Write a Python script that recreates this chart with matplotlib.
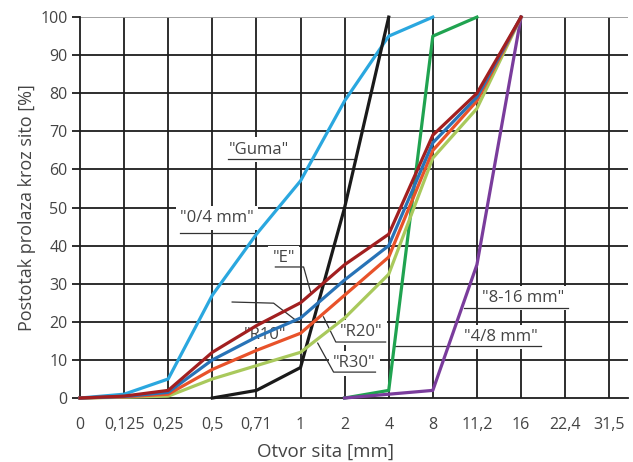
import matplotlib.pyplot as plt

plt.rcParams["font.family"] = ["Open Sans", "DejaVu Sans"]

sieves = ["0", "0,125", "0,25", "0,5", "0,71", "1", "2", "4", "8", "11,2", "16", "22,4", "31,5"]
pos = list(range(len(sieves)))

# passing [%] per sieve, None where the curve is not drawn
guma = [0, 1, 5, 27, 43, 57, 78, 95, 100, None, None, None, None]
black = [None, None, None, 0, 2, 8, 50, 100, None, None, None, None, None]
gr_4_8 = [None, None, None, None, None, None, 0, 2, 95, 100, None, None, None]
gr_8_16 = [None, None, None, None, None, None, 0, 1, 2, 35, 100, None, None]
e_curve = [0, 0.5, 2, 12, 19, 25, 35, 43, 69, 80, 100, None, None]
r10 = [0, 0.4, 1.5, 10, 16, 21, 31, 40, 67, 79, 100, None, None]
r20 = [0, 0.3, 1, 7.5, 12.5, 17, 27, 37, 65, 78, 100, None, None]
r30 = [0, 0.2, 0.5, 5, 8.5, 12, 21, 32.5, 63, 76, 100, None, None]

series = [
    (guma, "#2aa7df"),
    (black, "#1a1a1a"),
    (gr_4_8, "#20a350"),
    (gr_8_16, "#7a3c9c"),
    (r30, "#a9c95c"),
    (r20, "#e8522a"),
    (r10, "#2873b7"),
    (e_curve, "#a21f20"),
]

# label text, text position, leader line points
labels = [
    ('"Guma"', (4.05, 65.2), [(3.36, 62.7), (6.25, 62.7)]),
    ('"0/4 mm"', (3.1, 47.2), [(2.27, 43.3), (3.95, 43.3)]),
    ('"E"', (4.62, 36.8), [(4.43, 34.4), (5.07, 34.4), (5.23, 27.8)]),
    ('"R10"', (4.2, 16.6), [(3.45, 25.2), (4.39, 24.9), (4.95, 19.9)]),
    ('"R20"', (6.38, 17.2), [(6.93, 14.7), (5.8, 14.7), (5.52, 21.3)]),
    ('"R30"', (6.22, 9.1), [(6.7, 6.8), (5.75, 6.8), (5.39, 14.4)]),
    ('"8-16 mm"', (10.05, 26.3), [(8.7, 23.6), (11.07, 23.6)]),
    ('"4/8 mm"', (9.55, 16.1), [(7.11, 13.6), (10.45, 13.6)]),
]

fig = plt.figure(figsize=(6.33, 4.62), dpi=100)
ax = fig.add_axes([0.1264, 0.1385, 0.866, 0.8245])

ax.set_xlim(0, 12.43)
ax.set_ylim(0, 100)
ax.set_xticks(pos)
ax.set_xticklabels(sieves)
ax.set_yticks(range(0, 101, 10))

for x in pos[1:]:
    ax.axvline(x, color="#1e1e1e", lw=1.3, zorder=1)
for y in range(10, 100, 10):
    ax.axhline(y, color="#1e1e1e", lw=1.3, zorder=1)
ax.axhline(100, color="#9a9a9a", lw=1.3, zorder=1)

for s in ["top", "right"]:
    ax.spines[s].set_visible(False)
ax.spines["left"].set_color("#1e1e1e")
ax.spines["bottom"].set_color("#1e1e1e")
ax.spines["left"].set_linewidth(1.3)
ax.spines["bottom"].set_linewidth(1.3)
ax.tick_params(axis="y", length=6, width=1.3, color="#1e1e1e", labelsize=11.5, labelcolor="#444444", pad=3)
ax.tick_params(axis="x", length=0, labelsize=11.5, labelcolor="#444444", pad=14)

for txt, (tx, ty), pts in labels:
    ax.text(tx, ty, txt, ha="center", va="center", fontsize=12, color="#444444",
            bbox=dict(facecolor="white", edgecolor="none", pad=3), zorder=2)
    ax.plot([p[0] for p in pts], [p[1] for p in pts], color="#333333", lw=0.9, zorder=2.5)

for vals, col in series:
    xs = [p for p, v in zip(pos, vals) if v is not None]
    ys = [v for v in vals if v is not None]
    ax.plot(xs, ys, color=col, lw=2.3, zorder=3, clip_on=False, solid_joinstyle="round")

ax.set_xlabel("Otvor sita [mm]", fontsize=13.5, color="#444444")
ax.xaxis.set_label_coords(0.447, -0.117)
ax.set_ylabel("Postotak prolaza kroz sito [%]", fontsize=13, color="#444444", labelpad=3)

fig.savefig("out.png", dpi=100)
